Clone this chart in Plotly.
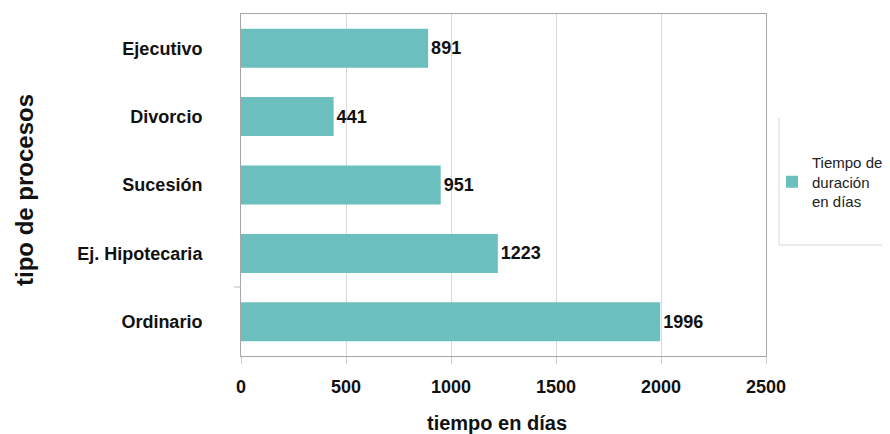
import plotly.graph_objects as go

categorias = ["Ordinario", "Ej. Hipotecaria", "Sucesión", "Divorcio", "Ejecutivo"]
dias = [1996, 1223, 951, 441, 891]
serie = "Tiempo de<br>duración<br>en días"
x_ticks = [0, 500, 1000, 1500, 2000, 2500]

FONT = "Liberation Sans, Arial, sans-serif"
BAR = "#6bbfbe"
INK = "#111111"

# The page body has an 8px margin, so figure coordinates = reference px - 8
OFF = 8
W, H = 890 - OFF, 434 - OFF
plot_l, plot_r, plot_t, plot_b = 241 - OFF, 766 - OFF, 14 - OFF, 356 - OFF


def px_x(px):
    return (px - OFF - plot_l) / (plot_r - plot_l)


def px_y(py):
    return (plot_b - (py - OFF)) / (plot_b - plot_t)


fig = go.Figure()
fig.add_trace(go.Bar(
    y=categorias, x=dias, orientation="h",
    marker=dict(color=BAR, line=dict(width=0)),
    width=0.57,
    name=serie,
    texttemplate="<b>%{x}</b>",
    textposition="outside",
    textfont=dict(family=FONT, size=18, color=INK),
    cliponaxis=False,
    showlegend=True,
))

fig.update_layout(
    width=W, height=H,
    margin=dict(l=plot_l, r=W - plot_r, t=plot_t, b=H - plot_b, autoexpand=False),
    paper_bgcolor="white", plot_bgcolor="white",
    font=dict(family=FONT, size=15, color=INK),
    legend=dict(
        xref="container", yref="container",
        x=(772 - OFF) / W, xanchor="left", y=1 - (182 - OFF) / H, yanchor="middle",
        borderwidth=0, bgcolor="rgba(0,0,0,0)",
        font=dict(family=FONT, size=15, color="#222222"),
        itemsizing="constant", itemwidth=30,
    ),
    xaxis=dict(
        range=[0, 2500], tickvals=x_ticks, ticktext=["<b>%d</b>" % t for t in x_ticks],
        showgrid=True, gridcolor="#d9d9d9", gridwidth=1,
        showline=True, linecolor="#a6a6a6", linewidth=1, mirror=True,
        ticks="outside", ticklen=7, tickcolor="#cccccc",
        tickfont=dict(family=FONT, size=18, color=INK),
        ticklabelstandoff=7,
        zeroline=False, automargin=False,
    ),
    yaxis=dict(
        categoryorder="array", categoryarray=categorias,
        ticktext=["<b>%s</b>" % c for c in categorias], tickvals=categorias,
        showline=True, linecolor="#a6a6a6", linewidth=1, mirror=True,
        showgrid=False, ticks="",
        tickfont=dict(family=FONT, size=18, color=INK),
        ticklabelstandoff=34, automargin=False,
    ),
    annotations=[
        dict(text="<b>tiempo en días</b>", xref="paper", yref="paper",
             x=px_x(497), y=px_y(410), xanchor="center", yanchor="top", showarrow=False,
             font=dict(family=FONT, size=20, color=INK)),
        dict(text="<b>tipo de procesos</b>", xref="paper", yref="paper",
             x=px_x(24), y=px_y(190), xanchor="center", yanchor="middle", showarrow=False,
             textangle=-90, font=dict(family=FONT, size=24, color=INK)),
    ],
)
fig.add_shape(type="line", xref="paper", yref="paper",
              x0=px_x(779), x1=px_x(779), y0=px_y(118), y1=px_y(245),
              line=dict(color="#d6d6d6", width=1))
fig.add_shape(type="line", xref="paper", yref="paper",
              x0=px_x(779), x1=px_x(892), y0=px_y(245), y1=px_y(245),
              line=dict(color="#d6d6d6", width=1))
fig.add_shape(type="line", xref="paper", yref="paper",
              x0=px_x(234), x1=px_x(241), y0=px_y(287), y1=px_y(287),
              line=dict(color="#bbbbbb", width=1))

fig.write_html("out.html")
